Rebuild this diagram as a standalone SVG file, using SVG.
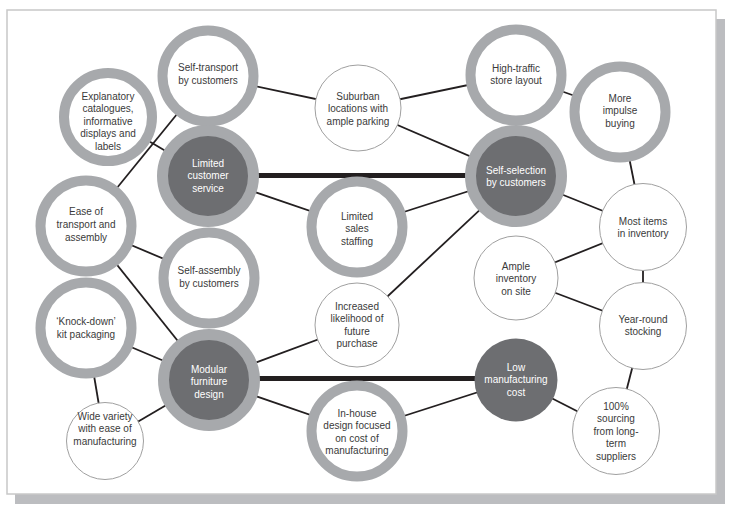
<svg xmlns="http://www.w3.org/2000/svg" width="734" height="516" viewBox="0 0 734 516">
<style>
.ring{fill:#fff;stroke:#a7a9ac;stroke-width:10}
.dark{fill:#6d6e71;stroke:#a7a9ac;stroke-width:11}
.solid{fill:#6d6e71}
.thin{fill:#fff;stroke:#a0a0a0;stroke-width:1}
.c{stroke:#231f20;stroke-width:1.8;fill:none}
.thick{stroke:#231f20;stroke-width:5;fill:none}
text{font-family:"Liberation Sans",Arial,Helvetica,sans-serif;font-size:10px;text-anchor:middle;fill:#3a3a3a}
.w{fill:#fff}
</style>
<rect x="15" y="19" width="710" height="485" fill="#bcbdc0"/>
<rect x="7" y="10" width="709" height="484" fill="#fff" stroke="#c8c8c8" stroke-width="1.5"/>
<g id="connectors">
<line class="c" x1="208" y1="76" x2="358" y2="108"/>
<line class="c" x1="208" y1="76" x2="86" y2="226"/>
<line class="c" x1="108" y1="117" x2="208" y2="176"/>
<line class="thick" x1="208" y1="175.5" x2="516" y2="175.5"/>
<line class="c" x1="208" y1="176" x2="357" y2="227"/>
<line class="c" x1="358" y1="108" x2="516" y2="75"/>
<line class="c" x1="358" y1="108" x2="516" y2="176"/>
<line class="c" x1="357" y1="227" x2="516" y2="176"/>
<line class="c" x1="516" y1="176" x2="357" y2="325"/>
<line class="c" x1="516" y1="75" x2="620" y2="112"/>
<line class="c" x1="620" y1="112" x2="643" y2="227"/>
<line class="c" x1="516" y1="176" x2="643" y2="227"/>
<line class="c" x1="516" y1="278" x2="643" y2="227"/>
<line class="c" x1="516" y1="278" x2="643" y2="326"/>
<line class="c" x1="643" y1="227" x2="643" y2="326"/>
<line class="c" x1="643" y1="326" x2="616" y2="431"/>
<line class="c" x1="516" y1="380" x2="616" y2="431"/>
<line class="c" x1="516" y1="380" x2="357" y2="431"/>
<line class="thick" x1="209" y1="378.5" x2="516" y2="378.5"/>
<line class="c" x1="209" y1="380" x2="357" y2="325"/>
<line class="c" x1="209" y1="380" x2="357" y2="431"/>
<line class="c" x1="209" y1="380" x2="86" y2="328"/>
<line class="c" x1="209" y1="380" x2="105" y2="441"/>
<line class="c" x1="86" y1="328" x2="105" y2="441"/>
<line class="c" x1="86" y1="226" x2="209" y2="278"/>
<line class="c" x1="86" y1="226" x2="209" y2="380"/>
</g>
<g id="self-transport"><circle class="ring" cx="208" cy="76" r="45.5"/><text x="208" y="71">Self-transport</text><text x="208" y="83.5">by customers</text></g>
<g id="explanatory"><circle class="ring" cx="108" cy="117" r="44"/><text x="108" y="99.5">Explanatory</text><text x="108" y="112">catalogues,</text><text x="108" y="124.5">informative</text><text x="108" y="137">displays and</text><text x="108" y="149.5">labels</text></g>
<g id="limited-customer-service"><circle class="dark" cx="208" cy="176" r="45.5"/><text class="w" x="208" y="166.5">Limited</text><text class="w" x="208" y="179">customer</text><text class="w" x="208" y="191.5">service</text></g>
<g id="ease"><circle class="ring" cx="86" cy="226" r="45.5"/><text x="86" y="215">Ease of</text><text x="86" y="228">transport and</text><text x="86" y="241">assembly</text></g>
<g id="self-assembly"><circle class="ring" cx="209" cy="278" r="45.5"/><text x="209" y="274">Self-assembly</text><text x="209" y="286.5">by customers</text></g>
<g id="knock-down"><circle class="ring" cx="86" cy="328" r="45.5"/><text x="86" y="325">‘Knock-down’</text><text x="86" y="337.5">kit packaging</text></g>
<g id="modular"><circle class="dark" cx="209" cy="380" r="45.5"/><text class="w" x="209" y="372.5">Modular</text><text class="w" x="209" y="385">furniture</text><text class="w" x="209" y="397.5">design</text></g>
<g id="wide-variety"><circle class="thin" cx="105" cy="441" r="38.5"/><text x="105" y="419.5">Wide variety</text><text x="105" y="432">with ease of</text><text x="105" y="444.5">manufacturing</text></g>
<g id="suburban"><circle class="thin" cx="358" cy="108" r="43"/><text x="358" y="99.5">Suburban</text><text x="358" y="112">locations with</text><text x="358" y="124.5">ample parking</text></g>
<g id="limited-sales"><circle class="ring" cx="357" cy="227" r="45.5"/><text x="357" y="219.5">Limited</text><text x="357" y="232">sales</text><text x="357" y="244.5">staffing</text></g>
<g id="increased-likelihood"><circle class="thin" cx="357" cy="325" r="42"/><text x="357" y="309.5">Increased</text><text x="357" y="322">likelihood of</text><text x="357" y="334.5">future</text><text x="357" y="347">purchase</text></g>
<g id="in-house"><circle class="ring" cx="357" cy="431" r="45.5"/><text x="357" y="416.5">In-house</text><text x="357" y="429">design focused</text><text x="357" y="441.5">on cost of</text><text x="357" y="454">manufacturing</text></g>
<g id="high-traffic"><circle class="ring" cx="516" cy="75" r="45.5"/><text x="516" y="71.5">High-traffic</text><text x="516" y="84">store layout</text></g>
<g id="impulse"><circle class="ring" cx="620" cy="112" r="45.5"/><text x="620" y="101.5">More</text><text x="620" y="114">impulse</text><text x="620" y="126.5">buying</text></g>
<g id="self-selection"><circle class="dark" cx="516" cy="176" r="45.5"/><text class="w" x="516" y="173.5">Self-selection</text><text class="w" x="516" y="186">by customers</text></g>
<g id="most-items"><circle class="thin" cx="643" cy="227" r="43.5"/><text x="643" y="224.5">Most items</text><text x="643" y="237">in inventory</text></g>
<g id="ample-inventory"><circle class="thin" cx="516" cy="278" r="42"/><text x="516" y="269.5">Ample</text><text x="516" y="282">inventory</text><text x="516" y="294.5">on site</text></g>
<g id="year-round"><circle class="thin" cx="643" cy="326" r="43.5"/><text x="643" y="322.5">Year-round</text><text x="643" y="335">stocking</text></g>
<g id="low-cost"><circle class="solid" cx="516" cy="380" r="41.5"/><text class="w" x="516" y="370.5">Low</text><text class="w" x="516" y="383">manufacturing</text><text class="w" x="516" y="395.5">cost</text></g>
<g id="sourcing"><circle class="thin" cx="616" cy="431" r="43.5"/><text x="616" y="409.5">100%</text><text x="616" y="422">sourcing</text><text x="616" y="434.5">from long-</text><text x="616" y="447">term</text><text x="616" y="459.5">suppliers</text></g>
</svg>
